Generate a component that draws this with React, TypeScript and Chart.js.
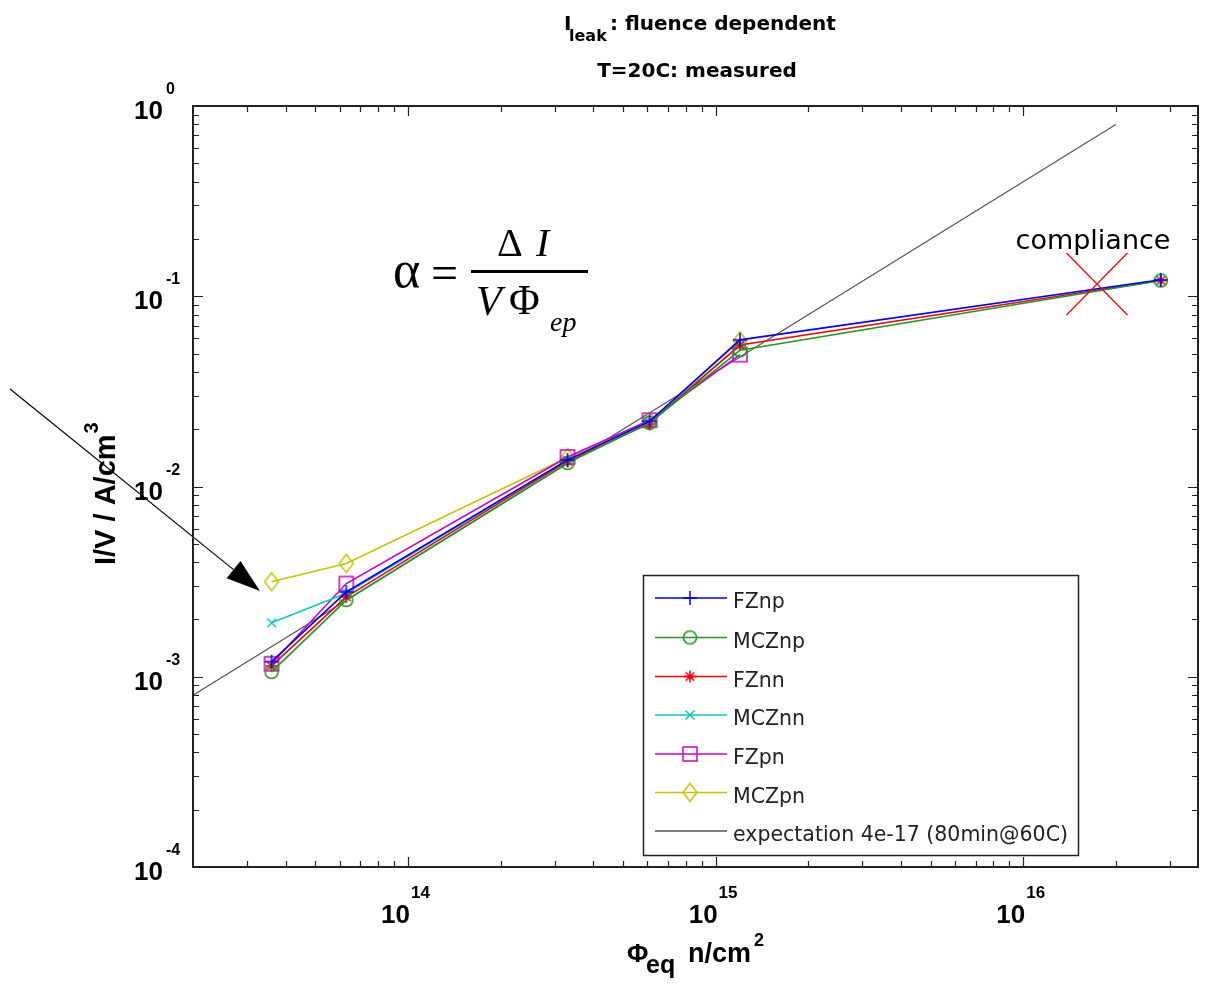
import React, { useEffect, useRef } from 'react';
import { Chart, registerables } from 'chart.js';

Chart.register(...registerables);

const W = 1219;
const H = 985;

// ---- data ----
const fluence = [3.6e13, 6.3e13, 3.3e14, 6.1e14, 1.2e15, 2.8e16];
const FZnp = [1.2e-3, 2.79e-3, 1.38e-2, 2.2e-2, 5.9e-2, 0.122];
const MCZnp = [1.06e-3, 2.53e-3, 1.33e-2, 2.16e-2, 5.2e-2, 0.121];
const FZnn = [1.14e-3, 2.63e-3, 1.36e-2, 2.14e-2, 5.55e-2, 0.121];
const MCZnn = [1.92e-3, 2.75e-3, 1.37e-2, 2.2e-2, 5.5e-2];
const FZpn = [1.17e-3, 3.09e-3, 1.43e-2, 2.23e-2, 4.93e-2];
const MCZpn = [3.16e-3, 3.94e-3, 1.42e-2, 2.2e-2, 5.83e-2];
const expectX = [2e13, 2e16];
const expectY = [8e-4, 0.8];
const xDecades = [14, 15, 16];
const yDecades = [0, -1, -2, -3, -4];
const seriesNames = ['FZnp', 'MCZnp', 'FZnn', 'MCZnn', 'FZpn', 'MCZpn'];
const expectLabel = 'expectation 4e-17 (80min@60C)';
const compliancePoint = { x: 1.73e16, y: 0.116 };

const X_MIN = 2e13;
const X_MAX = 3.7e16;
const Y_MIN = 1e-4;
const Y_MAX = 1;

const colors = ['#0000ff', '#1f9a1f', '#ff0000', '#12c4c4', '#cc00cc', '#c4c400'];
const markerKinds = ['plus', 'circle', 'star', 'x', 'square', 'diamond'];
const seriesValues = [FZnp, MCZnp, FZnn, MCZnn, FZpn, MCZpn];

function makeMarker(kind: string, color: string): HTMLCanvasElement {
  const c = document.createElement('canvas');
  c.width = 24;
  c.height = 24;
  const g = c.getContext('2d')!;
  g.strokeStyle = color;
  g.fillStyle = color;
  g.lineWidth = 1.5;
  const cx = 12;
  const cy = 12;
  g.beginPath();
  if (kind === 'plus') {
    g.moveTo(cx - 7, cy); g.lineTo(cx + 7, cy);
    g.moveTo(cx, cy - 7); g.lineTo(cx, cy + 7);
    g.stroke();
  } else if (kind === 'circle') {
    g.arc(cx, cy, 6.5, 0, Math.PI * 2);
    g.stroke();
  } else if (kind === 'star') {
    const r = 6;
    const d = r * 0.72;
    g.moveTo(cx - r, cy); g.lineTo(cx + r, cy);
    g.moveTo(cx, cy - r); g.lineTo(cx, cy + r);
    g.moveTo(cx - d, cy - d); g.lineTo(cx + d, cy + d);
    g.moveTo(cx - d, cy + d); g.lineTo(cx + d, cy - d);
    g.stroke();
    g.beginPath();
    g.arc(cx, cy, 2.6, 0, Math.PI * 2);
    g.fill();
  } else if (kind === 'x') {
    const d = 4.5;
    g.moveTo(cx - d, cy - d); g.lineTo(cx + d, cy + d);
    g.moveTo(cx - d, cy + d); g.lineTo(cx + d, cy - d);
    g.stroke();
  } else if (kind === 'square') {
    g.rect(cx - 7, cy - 7, 14, 14);
    g.stroke();
  } else if (kind === 'diamond') {
    g.moveTo(cx, cy - 9); g.lineTo(cx + 7, cy); g.lineTo(cx, cy + 9); g.lineTo(cx - 7, cy);
    g.closePath();
    g.stroke();
  }
  return c;
}

function text(ctx: CanvasRenderingContext2D, s: string, x: number, y: number, font: string, align: CanvasTextAlign = 'left', color = '#000') {
  ctx.save();
  ctx.font = font;
  ctx.fillStyle = color;
  ctx.textAlign = align;
  ctx.textBaseline = 'alphabetic';
  ctx.fillText(s, x, y);
  ctx.restore();
}

export default function App() {
  const ref = useRef<HTMLCanvasElement | null>(null);

  useEffect(() => {
    document.body.style.margin = '0';
    const canvas = ref.current!;
    const markers = markerKinds.map((k, i) => makeMarker(k, colors[i]));

    const datasets: any[] = seriesNames.map((name, i) => ({
      label: name,
      data: seriesValues[i].map((v, j) => ({ x: fluence[j], y: v })),
      borderColor: colors[i],
      backgroundColor: colors[i],
      borderWidth: 1.6,
      showLine: true,
      fill: false,
      tension: 0,
      pointStyle: markers[i],
      pointRadius: 7,
      pointHoverRadius: 7,
    }));
    datasets.push({
      label: expectLabel,
      data: expectX.map((x, j) => ({ x, y: expectY[j] })),
      borderColor: '#555555',
      borderWidth: 1.2,
      showLine: true,
      fill: false,
      pointRadius: 0,
      order: 10,
    });

    const decor = {
      id: 'decor',
      beforeDraw(chart: any) {
        const ctx = chart.ctx as CanvasRenderingContext2D;
        ctx.save();
        ctx.fillStyle = '#fff';
        ctx.fillRect(0, 0, W, H);
        ctx.restore();
      },
      afterDraw(chart: any) {
        const ctx = chart.ctx as CanvasRenderingContext2D;
        const xs = chart.scales.x;
        const ys = chart.scales.y;
        const a = chart.chartArea;

        // frame
        ctx.save();
        ctx.strokeStyle = '#222';
        ctx.lineWidth = 2;
        ctx.strokeRect(a.left, a.top, a.right - a.left, a.bottom - a.top);

        // ticks
        ctx.lineWidth = 1.2;
        ctx.beginPath();
        for (let d = 13; d <= 16; d++) {
          for (let k = 1; k <= 9; k++) {
            const v = k * Math.pow(10, d);
            if (v < X_MIN * 1.0001 || v > X_MAX * 0.9999) continue;
            const px = Math.round(xs.getPixelForValue(v)) + 0.5;
            const len = k === 1 ? 10 : 6;
            ctx.moveTo(px, a.bottom); ctx.lineTo(px, a.bottom - len);
            ctx.moveTo(px, a.top); ctx.lineTo(px, a.top + len);
          }
        }
        for (let d = -4; d <= 0; d++) {
          for (let k = 1; k <= 9; k++) {
            const v = k * Math.pow(10, d);
            if (v <= Y_MIN * 1.0001 || v >= Y_MAX * 0.9999) continue;
            const py = Math.round(ys.getPixelForValue(v)) + 0.5;
            const len = k === 1 ? 10 : 6;
            ctx.moveTo(a.left, py); ctx.lineTo(a.left + len, py);
            ctx.moveTo(a.right, py); ctx.lineTo(a.right - len, py);
          }
        }
        ctx.stroke();
        ctx.restore();

        // y tick labels
        for (const d of yDecades) {
          const py = ys.getPixelForValue(Math.pow(10, d));
          text(ctx, '10', 163, py + 13, 'bold 26px "Liberation Sans", Arial, sans-serif', 'right');
          text(ctx, String(d), 166, py - 12, 'bold 16px "Liberation Sans", Arial, sans-serif', 'left');
        }
        // x tick labels
        for (const d of xDecades) {
          const px = xs.getPixelForValue(Math.pow(10, d));
          text(ctx, '10', px + 2, 923, 'bold 26px "Liberation Sans", Arial, sans-serif', 'right');
          text(ctx, String(d), px + 3, 898, 'bold 17px "Liberation Sans", Arial, sans-serif', 'left');
        }

        // title
        text(ctx, 'I', 564, 30, 'bold 20px "DejaVu Sans", sans-serif');
        text(ctx, 'leak', 569, 41, 'bold 16px "DejaVu Sans", sans-serif');
        text(ctx, ': fluence dependent', 610, 30, 'bold 20px "DejaVu Sans", sans-serif');
        text(ctx, 'T=20C: measured', 697, 77, 'bold 20px "DejaVu Sans", sans-serif', 'center');

        // y axis label
        ctx.save();
        ctx.translate(115, 565);
        ctx.rotate(-Math.PI / 2);
        ctx.font = 'bold 29px "Liberation Sans", Arial, sans-serif';
        ctx.fillStyle = '#000';
        ctx.textBaseline = 'alphabetic';
        ctx.fillText('I/V / A/cm', 0, 0);
        const wy = ctx.measureText('I/V / A/cm').width;
        ctx.font = 'bold 20px "Liberation Sans", Arial, sans-serif';
        ctx.fillText('3', wy + 1, -17);
        ctx.restore();

        // x axis label
        text(ctx, 'Φ', 627, 962, 'bold 26px "Liberation Sans", Arial, sans-serif');
        text(ctx, 'eq', 646, 973, 'bold 25px "Liberation Sans", Arial, sans-serif');
        text(ctx, 'n/cm', 688, 962, 'bold 27px "Liberation Sans", Arial, sans-serif');
        text(ctx, '2', 754, 946, 'bold 18px "Liberation Sans", Arial, sans-serif');

        // formula
        const serif = '"Liberation Serif", "Times New Roman", serif';
        text(ctx, 'α', 393, 287, `52px ${serif}`);
        text(ctx, '=', 431, 289, `48px ${serif}`);
        ctx.save();
        ctx.fillStyle = '#000';
        ctx.fillRect(471, 270, 117, 3);
        ctx.restore();
        text(ctx, 'Δ', 497, 256, `40px ${serif}`);
        text(ctx, 'I', 536, 256, `italic 40px ${serif}`);
        text(ctx, 'V', 476, 315, `italic 42px ${serif}`);
        text(ctx, 'Φ', 509, 314, `42px ${serif}`);
        text(ctx, 'ep', 550, 331, `italic 28px ${serif}`);

        // compliance
        const cx = xs.getPixelForValue(compliancePoint.x);
        const cy = ys.getPixelForValue(compliancePoint.y);
        ctx.save();
        ctx.strokeStyle = '#ff0000';
        ctx.lineWidth = 1.2;
        ctx.beginPath();
        ctx.moveTo(cx - 30, cy - 31); ctx.lineTo(cx + 31, cy + 31);
        ctx.moveTo(cx - 30, cy + 31); ctx.lineTo(cx + 31, cy - 31);
        ctx.stroke();
        ctx.restore();
        text(ctx, 'compliance', 1093, 249, '27px "DejaVu Sans", sans-serif', 'center');

        // arrow
        ctx.save();
        const x0 = 10, y0 = 389, tx = 260, ty = 591;
        const ang = Math.atan2(ty - y0, tx - x0);
        const hl = 34, hw = 11;
        const bx = tx - hl * Math.cos(ang);
        const by = ty - hl * Math.sin(ang);
        ctx.strokeStyle = '#000';
        ctx.lineWidth = 1.2;
        ctx.beginPath();
        ctx.moveTo(x0, y0);
        ctx.lineTo(bx, by);
        ctx.stroke();
        ctx.fillStyle = '#000';
        ctx.beginPath();
        ctx.moveTo(tx, ty);
        ctx.lineTo(bx - hw * Math.sin(ang), by + hw * Math.cos(ang));
        ctx.lineTo(bx + hw * Math.sin(ang), by - hw * Math.cos(ang));
        ctx.closePath();
        ctx.fill();
        ctx.restore();

        // legend
        ctx.save();
        ctx.fillStyle = '#fff';
        ctx.fillRect(643, 575, 435, 280);
        ctx.strokeStyle = '#222';
        ctx.lineWidth = 1.5;
        ctx.strokeRect(643.5, 575.5, 435, 280);
        const rowY = [598, 637.5, 676.5, 715, 754, 792.5, 831];
        const legFont = '20.5px "DejaVu Sans", sans-serif';
        for (let i = 0; i < seriesNames.length; i++) {
          const y = rowY[i];
          ctx.strokeStyle = colors[i];
          ctx.lineWidth = 1.5;
          ctx.beginPath();
          ctx.moveTo(655, y); ctx.lineTo(727, y);
          ctx.stroke();
          ctx.drawImage(markers[i], 690 - 12, y - 12);
          text(ctx, seriesNames[i], 733, y + 10, legFont, 'left', '#222');
        }
        const ye = rowY[6];
        ctx.strokeStyle = '#555';
        ctx.lineWidth = 1.5;
        ctx.beginPath();
        ctx.moveTo(655, ye); ctx.lineTo(727, ye);
        ctx.stroke();
        text(ctx, expectLabel, 733, ye + 10, legFont, 'left', '#222');
        ctx.restore();
      },
    };

    const chart = new Chart(canvas, {
      type: 'scatter',
      data: { datasets },
      options: {
        responsive: false,
        animation: false,
        devicePixelRatio: 1,
        layout: { padding: { left: 193, top: 106, right: 21, bottom: 118 } },
        plugins: { legend: { display: false }, tooltip: { enabled: false }, title: { display: false } },
        scales: {
          x: { type: 'logarithmic', min: X_MIN, max: X_MAX, display: false },
          y: { type: 'logarithmic', min: Y_MIN, max: Y_MAX, display: false },
        },
        events: [],
      },
      plugins: [decor],
    });
    return () => chart.destroy();
  }, []);

  return <canvas ref={ref} width={W} height={H} style={{ display: 'block', width: W, height: H }} />;
}
